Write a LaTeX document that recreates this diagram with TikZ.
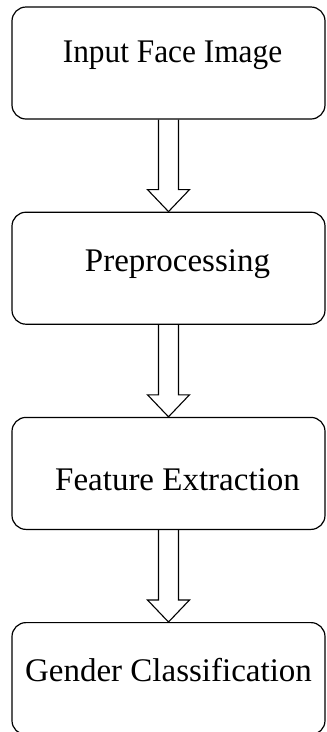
\documentclass[tikz,border=0pt]{standalone}
\usepackage{fontspec}
\setmainfont{Liberation Serif}
\usetikzlibrary{positioning}
\tikzstyle{block} = [rectangle, draw, line width=1.2pt, text centered, rounded corners=14pt, minimum width=313pt, minimum height=112pt, inner sep=2pt, text height=40pt, font=\fontsize{33}{38}\selectfont]
\tikzstyle{nudge} = [execute at begin node={\hspace*{#1}}, execute at end node={\hspace*{-#1}}]
\tikzstyle{fat} = [draw, line width=1.1pt, to path={([xshift=-10pt]\tikztostart.south) -- ([xshift=-10pt,yshift=22pt]\tikztotarget.north) -- ++(-11pt,0) -- (\tikztotarget.north) -- ([xshift=21pt,yshift=22pt]\tikztotarget.north) -- ++(-11pt,0) -- ([xshift=10pt]\tikztostart.south)}]
\begin{document}
\begin{tikzpicture}[node distance = 92pt]
						\useasboundingbox (0,0) rectangle (327pt,-732pt);
						% Place nodes
						\node [block, text depth=42pt, nudge=4pt] at (168.5pt,-63pt) (input) {\addfontfeature{FakeStretch=0.95}Input Face Image};
						\node [block, text depth=34pt, nudge=9pt, below=of input] (prep) {Preprocessing};
						\node [block, text depth=6pt, nudge=9pt, below=of prep] (feat) {Feature Extraction};
						\node [block, text depth=34pt, below=of feat] (gender) {Gender Classification};
						
						% Draw edges
						\path [fat] (input) to (prep);
						\path [fat] (prep) to (feat);
						\path [fat] (feat) to (gender);
						
					\end{tikzpicture}
\end{document}
